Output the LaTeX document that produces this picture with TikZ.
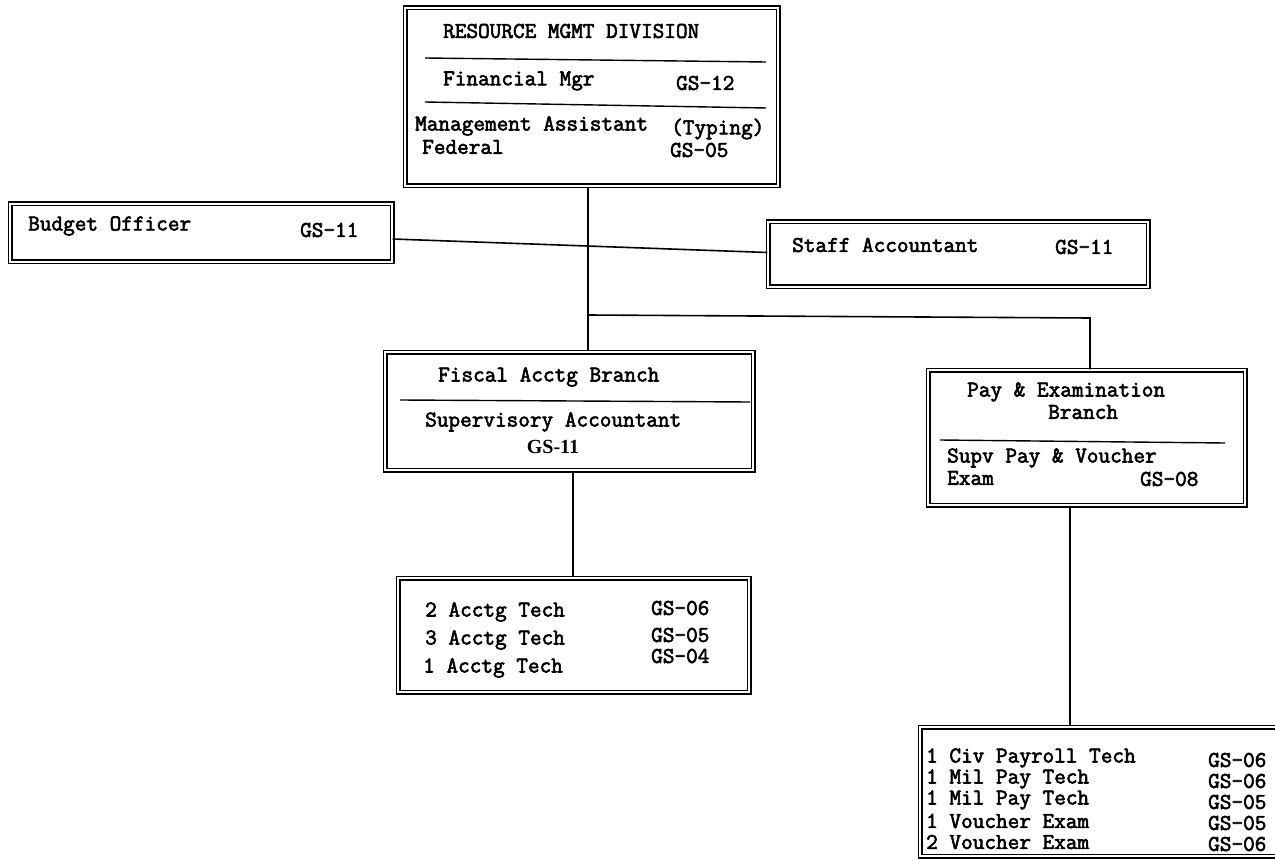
\documentclass[tikz,border=0pt]{standalone}
\usepackage{fontspec}
\setmainfont{Liberation Serif}
\setmonofont{Latin Modern Mono}[FakeBold=2.6]
\begin{document}
\begin{tikzpicture}[x=1pt,y=-1pt,
  box/.style={draw, double, line width=1.3pt, double distance=2.4pt, inner sep=0pt},
  conn/.style={line width=1.6pt},
  sep/.style={line width=1.4pt},
  txt/.style={anchor=west, inner sep=0pt, font=\fontsize{22.6}{24}\selectfont\ttfamily},
  stxt/.style={anchor=center, inner sep=0pt, font=\fontsize{20}{22}\selectfont\rmfamily\bfseries}]
\useasboundingbox (0,0) rectangle (1275,861);
\clip (0,0) rectangle (1275,861);
\fill[white] (0,0) rectangle (1275,861);

% boxes
\node[box, minimum width=373pt, minimum height=178pt] (rmd) at (591.5,97) {};
\node[box, minimum width=382pt, minimum height=58pt] (budget) at (201,233) {};
\node[box, minimum width=380pt, minimum height=65pt] (staff) at (958,254.5) {};
\node[box, minimum width=368pt, minimum height=118pt] (fiscal) at (569,411) {};
\node[box, minimum width=317pt, minimum height=135pt] (pay) at (1086.5,437.5) {};
\node[box, minimum width=351pt, minimum height=114pt] (acctg) at (573.5,635) {};
\node[box, minimum width=370pt, minimum height=129pt] (bot) at (1105,791.5) {};

% separators
\draw[sep] (425,58) -- (766,62);
\draw[sep] (425,102) -- (766,108);
\draw[sep] (400,400) -- (750,402);
\draw[sep] (940,440) -- (1225,443);

% texts: top box
\node[txt] (t1) at (443,31) {RESOURCE MGMT DIVISION};
\node[txt] (t2) at (443,81) {Financial Mgr};
\node[txt] (t3) at (676,83) {GS-12};
\node[txt] (t4) at (415,126) {Management Assistant};
\node[txt] (t5) at (671,129) {(Typing)};
\node[txt] (t6) at (422,147) {Federal};
\node[txt] (t7) at (670,150) {GS-05};

% budget / staff
\node[txt] (b1) at (28,226) {Budget Officer};
\node[txt] (b2) at (300,230) {GS-11};
\node[txt] (s1) at (792,245) {Staff Accountant};
\node[txt] (s2) at (1055,247) {GS-11};

% fiscal
\node[txt] (f1) at (438,377) {Fiscal Acctg Branch};
\node[txt] (f2) at (425,422) {Supervisory Accountant};
\node[stxt] (f3) at (553,447) {GS-11};

% pay
\node[txt] (p1) at (967,392) {Pay \& Examination};
\node[txt] (p2) at (1048,412) {Branch};
\node[txt] (p3) at (947,458) {Supv Pay \& Voucher};
\node[txt] (p4) at (947,478) {Exam};
\node[txt] (p5) at (1140,479) {GS-08};

% acctg
\node[txt] (a1) at (425,612) {2 Acctg Tech};
\node[txt] (a2) at (651,608) {GS-06};
\node[txt] (a3) at (425,640) {3 Acctg Tech};
\node[txt] (a4) at (651,635) {GS-05};
\node[txt] (a5) at (651,656) {GS-04};
\node[txt] (a6) at (423,668) {1 Acctg Tech};

% bottom
\node[txt] (c1) at (926,758) {1 Civ Payroll Tech};
\node[txt] (c2) at (1208,760) {GS-06};
\node[txt] (c3) at (926,779) {1 Mil Pay Tech};
\node[txt] (c4) at (1208,781) {GS-06};
\node[txt] (c5) at (926,800) {1 Mil Pay Tech};
\node[txt] (c6) at (1208,802) {GS-05};
\node[txt] (c7) at (926,821) {1 Voucher Exam};
\node[txt] (c8) at (1208,823) {GS-05};
\node[txt] (c9) at (926,842) {2 Voucher Exam};
\node[txt] (c10) at (1208,844) {GS-06};

% connectors
\coordinate (v) at (588,315);
\coordinate (pv) at (1090,318);
\coordinate (fa) at (573,520);
\coordinate (pb) at (1070,600);
\draw[conn] (rmd.south -| v) -- (fiscal.north -| v);
\draw[conn] ([yshift=-6pt]budget.east) -- ([yshift=2pt]staff.west);
\draw[conn] (v) -- (pv) -- (pay.north -| pv);
\draw[conn] (fiscal.south -| fa) -- (acctg.north -| fa);
\draw[conn] (pay.south -| pb) -- (bot.north -| pb);
\end{tikzpicture}
\end{document}
